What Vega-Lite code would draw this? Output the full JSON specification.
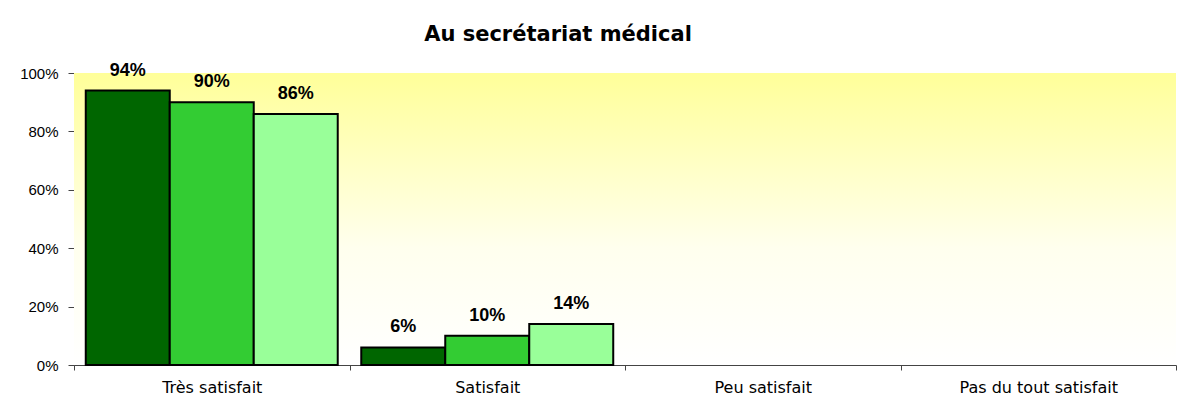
{
  "$schema": "https://vega.github.io/schema/vega-lite/v6.json",
  "autosize": "none",
  "width": 1102,
  "height": 292,
  "padding": {"left": 74, "top": 73, "right": 1, "bottom": 53},
  "background": "white",
  "title": {
    "text": "Au secrétariat médical",
    "fontSize": 21,
    "fontWeight": "bold",
    "font": "DejaVu Sans",
    "color": "black",
    "anchor": "middle",
    "dx": -67,
    "offset": 17
  },
  "datasets": {
    "main": [
      {"categorie": "Très satisfait", "serie": "Série 1", "valeur": 0.94},
      {"categorie": "Très satisfait", "serie": "Série 2", "valeur": 0.90},
      {"categorie": "Très satisfait", "serie": "Série 3", "valeur": 0.86},
      {"categorie": "Satisfait", "serie": "Série 1", "valeur": 0.06},
      {"categorie": "Satisfait", "serie": "Série 2", "valeur": 0.10},
      {"categorie": "Satisfait", "serie": "Série 3", "valeur": 0.14},
      {"categorie": "Peu satisfait", "serie": "Série 1", "valeur": 0},
      {"categorie": "Peu satisfait", "serie": "Série 2", "valeur": 0},
      {"categorie": "Peu satisfait", "serie": "Série 3", "valeur": 0},
      {"categorie": "Pas du tout satisfait", "serie": "Série 1", "valeur": 0},
      {"categorie": "Pas du tout satisfait", "serie": "Série 2", "valeur": 0},
      {"categorie": "Pas du tout satisfait", "serie": "Série 3", "valeur": 0}
    ],
    "fond": [{"bas": 0, "haut": 1}]
  },
  "layer": [
    {
      "data": {"name": "fond"},
      "mark": {
        "type": "rect",
        "color": {
          "gradient": "linear",
          "x1": 0, "y1": 0, "x2": 0, "y2": 1,
          "stops": [
            {"offset": 0, "color": "#FFFF99"},
            {"offset": 0.6, "color": "#FFFFEE"},
            {"offset": 1, "color": "#FFFFFF"}
          ]
        }
      },
      "encoding": {
        "y": {"field": "bas", "type": "quantitative", "scale": {"domain": [0, 1]}},
        "y2": {"field": "haut"}
      }
    },
    {
      "data": {"name": "main"},
      "transform": [{"filter": "datum.valeur > 0"}],
      "mark": {"type": "bar", "stroke": "black", "strokeWidth": 2},
      "encoding": {
        "x": {
          "field": "categorie", "type": "nominal",
          "scale": {"domain": ["Très satisfait", "Satisfait", "Peu satisfait", "Pas du tout satisfait"], "paddingInner": 0, "paddingOuter": 0},
          "axis": {"title": null, "labelAngle": 0, "tickBand": "extent", "tickSize": 5, "labelPadding": 9, "labelFontSize": 16, "labelFont": "DejaVu Sans", "labelColor": "black", "domainColor": "#444", "tickColor": "#444"}
        },
        "xOffset": {"field": "serie", "type": "nominal", "scale": {"paddingOuter": 0.14, "paddingInner": 0}},
        "y": {
          "field": "valeur", "type": "quantitative",
          "scale": {"domain": [0, 1]},
          "axis": {"title": null, "format": ".0%", "tickCount": 6, "grid": false, "tickSize": 6, "labelPadding": 10, "labelFontSize": 15, "labelFont": "Liberation Sans", "labelColor": "black", "domainColor": "#444", "tickColor": "#444"}
        },
        "color": {
          "field": "serie", "type": "nominal",
          "scale": {"range": ["#006600", "#33CC33", "#99FF99"]},
          "legend": null
        }
      }
    },
    {
      "data": {"name": "main"},
      "transform": [{"filter": "datum.valeur > 0"}],
      "mark": {"type": "text", "baseline": "alphabetic", "dy": -15, "fontSize": 18, "fontWeight": "bold", "font": "Liberation Sans", "color": "black"},
      "encoding": {
        "x": {"field": "categorie", "type": "nominal"},
        "xOffset": {"field": "serie", "type": "nominal"},
        "y": {"field": "valeur", "type": "quantitative"},
        "text": {"field": "valeur", "type": "quantitative", "format": ".0%"}
      }
    }
  ],
  "config": {"view": {"stroke": null}}
}
